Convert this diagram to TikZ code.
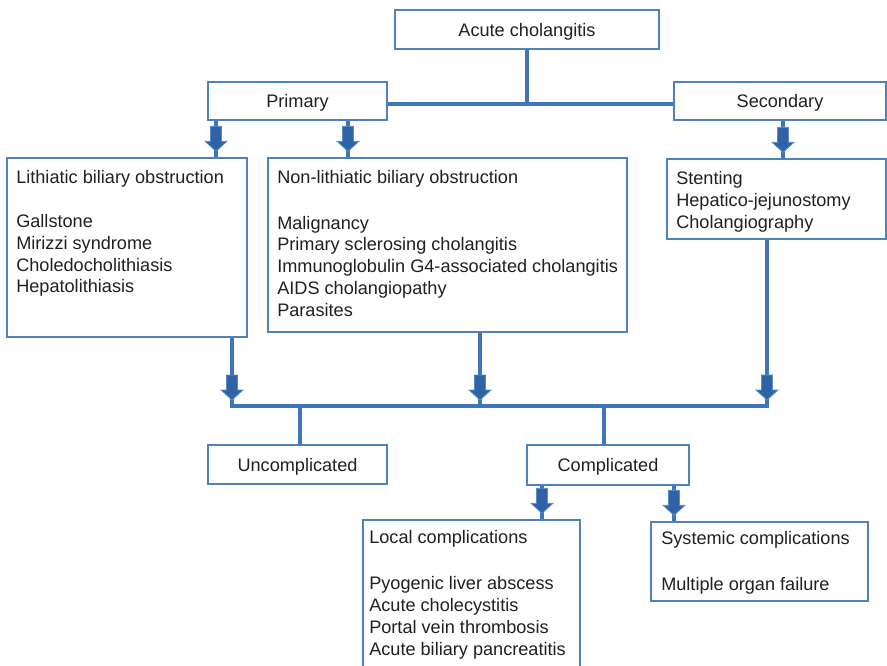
\documentclass[tikz,border=0pt]{standalone}
\usepackage{fontspec}
\setmainfont{Liberation Sans}
\usetikzlibrary{calc,fit}

\definecolor{boxblue}{HTML}{4F81BD}
\definecolor{linkblue}{HTML}{3D76B9}
\definecolor{tipfill}{HTML}{2F63A5}
\definecolor{tipedge}{HTML}{5A8DC8}
\definecolor{inktext}{HTML}{231F20}

\begin{document}
\begin{tikzpicture}[x=0.75pt,y=-0.75pt,
  every node/.style={text=inktext, font=\fontsize{13.6pt}{16.35pt}\selectfont},
  box/.style={draw=boxblue, line width=1.1pt, fill=white, inner sep=0pt, rectangle},
  listtext/.style={anchor=north west, inner sep=0pt, align=left},
  title/.style={inner sep=0pt},
  link/.style={draw=linkblue, line width=2.3pt, line join=miter},
  blockarrow/.pic={
    \draw[fill=tipfill, draw=tipedge, line width=0.6pt]
      (-5.5,-25) -- (5.5,-25) -- (5.5,-10) -- (11,-10) -- (0,0)
      -- (-11,-10) -- (-5.5,-10) -- cycle;
  }]
\clip (0,0) rectangle (887,666);

% column positions of the connectors
\coordinate (xA) at (216,0);
\coordinate (xB) at (348,0);
\coordinate (xS) at (783,0);
\coordinate (xD) at (232,0);
\coordinate (xE) at (480,0);
\coordinate (xF) at (767,0);
\coordinate (xU) at (300,0);
\coordinate (xC) at (604,0);
\coordinate (xL) at (542,0);
\coordinate (xM) at (674,0);
\coordinate (bus) at (0,406);
\coordinate (split) at (0,104);

% boxes
\node[box, fit={(395,10) (659,49)}] (acute) {};
\node[box, fit={(208,82) (387,120)}] (primary) {};
\node[box, fit={(674,82) (886,120)}] (secondary) {};
\node[box, fit={(7,158) (247,337)}] (lith) {};
\node[box, fit={(268,158) (627,332)}] (nonlith) {};
\node[box, fit={(667,159) (886,239)}] (seclist) {};
\node[box, fit={(208,445) (387,484)}] (uncompl) {};
\node[box, fit={(527,445) (689,485)}] (compl) {};
\node[box, fit={(363,520) (580,690)}] (local) {};
\node[box, fit={(651,522) (868,601)}] (systemic) {};

% box titles
\node[title] (acutetext) at ($(acute.center)+(0,2.5)$) {Acute cholangitis};
\node[title] (primarytext) at ($(primary.center)+(0,1.5)$) {Primary};
\node[title] (secondarytext) at ($(secondary.center)+(0,2)$) {Secondary};
\node[title] (uncompltext) at ($(uncompl.center)+(0,2.5)$) {Uncomplicated};
\node[title] (compltext) at ($(compl.center)+(0,2)$) {Complicated};

% box contents
\node[listtext] (lithtext) at (16,170.5)
  {Lithiatic biliary obstruction\\[16.4pt]Gallstone\\Mirizzi syndrome\\Choledocholithiasis\\Hepatolithiasis};
\node[listtext] (nonlithtext) at (277,170.5)
  {Non-lithiatic biliary obstruction\\[17.6pt]Malignancy\\Primary sclerosing cholangitis\\Immunoglobulin G4-associated cholangitis\\AIDS cholangiopathy\\Parasites};
\node[listtext] (seclisttext) at (676,171)
  {Stenting\\Hepatico-jejunostomy\\Cholangiography};
\node[listtext] (localtext) at (369,530.5)
  {Local complications\\[18.2pt]Pyogenic liver abscess\\Acute cholecystitis\\Portal vein thrombosis\\Acute biliary pancreatitis};
\node[listtext] (systemictext) at (661,531.5)
  {Systemic complications\\[18.2pt]Multiple organ failure};

% top split
\draw[link] (acute.south) -- (acute.south |- split);
\draw[link] (primary.east |- split) -- (secondary.west |- split);

% primary and secondary causes
\draw[link] (primary.south -| xA) -- (lith.north -| xA);
\draw[link] (primary.south -| xB) -- (nonlith.north -| xB);
\draw[link] (secondary.south -| xS) -- (seclist.north -| xS);
\path ($(lith.north -| xA)+(0,-6)$) pic {blockarrow};
\path ($(nonlith.north -| xB)+(0,-6)$) pic {blockarrow};
\path ($(seclist.north -| xS)+(0,-6)$) pic {blockarrow};

% gathering bus
\draw[link] (lith.south -| xD) -- (xD |- bus) -- (xF |- bus) -- (seclist.south -| xF);
\draw[link] (nonlith.south -| xE) -- (xE |- bus);
\path ($(xD |- bus)+(0,-6)$) pic {blockarrow};
\path ($(xE |- bus)+(0,-6)$) pic {blockarrow};
\path ($(xF |- bus)+(0,-6)$) pic {blockarrow};

% outcomes
\draw[link] (xU |- bus) -- (uncompl.north -| xU);
\draw[link] (xC |- bus) -- (compl.north -| xC);

% complications
\draw[link] (compl.south -| xL) -- (local.north -| xL);
\draw[link] (compl.south -| xM) -- (systemic.north -| xM);
\path ($(local.north -| xL)+(0,-6)$) pic {blockarrow};
\path ($(systemic.north -| xM)+(0,-6)$) pic {blockarrow};
\end{tikzpicture}
\end{document}
